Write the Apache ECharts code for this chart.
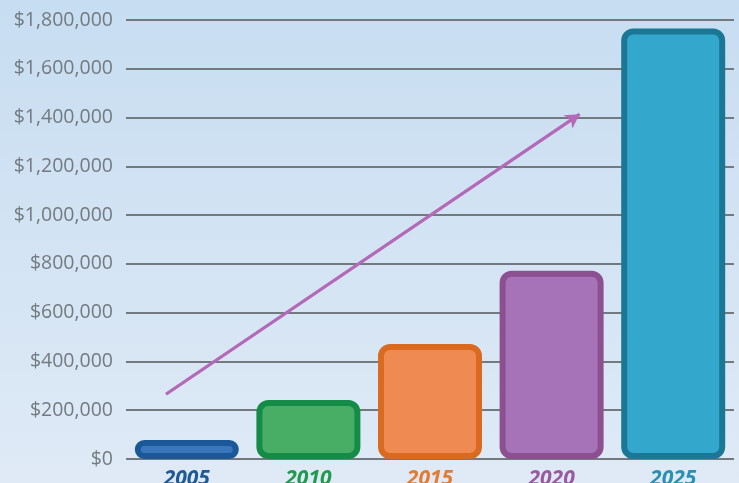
<!DOCTYPE html>
<html>
<head>
<meta charset="utf-8">
<script src="https://cdn.jsdelivr.net/npm/echarts@6/dist/echarts.min.js"></script>
<style>
html,body{margin:0;padding:0;}
#c{width:739px;height:483px;}
</style>
</head>
<body>
<div id="c"></div>
<script>
const categories = ['2005', '2010', '2015', '2020', '2025'];
const values = [78000, 242000, 472000, 772000, 1765000];
const yTicks = { min: 0, max: 1800000, interval: 200000 };
const fillColors = ['#3a76bc', '#48ae66', '#ee8a52', '#a673b8', '#34a7cc'];
const borderColors = ['#1b5898', '#148c48', '#da6a20', '#8c4f8f', '#1a7896'];
const labelColors = ['#1f5a96', '#1f9a4e', '#e37c33', '#9a5aa0', '#2a90b2'];
const trendArrow = [[-0.17, 266000], [3.23, 1414000]];

const chart = echarts.init(document.getElementById('c'));
chart.setOption({
  animation: false,
  backgroundColor: {
    type: 'linear', x: 0, y: 0, x2: 0, y2: 1,
    colorStops: [{ offset: 0, color: '#c7ddf1' }, { offset: 1, color: '#dfeaf6' }]
  },
  grid: { left: 126, right: 5, top: 20, bottom: 24, containLabel: false, outerBoundsMode: 'none' },
  xAxis: [{
    type: 'category',
    data: categories.map((c, i) => ({ value: c, textStyle: { color: labelColors[i] } })),
    axisLine: { show: false },
    axisTick: { show: false },
    axisLabel: {
      fontFamily: 'Open Sans', fontSize: 21, fontWeight: 'bold', fontStyle: 'italic',
      margin: 10
    }
  }, {
    type: 'value', min: -0.5, max: 4.5, show: false
  }],
  yAxis: {
    type: 'value',
    min: yTicks.min, max: yTicks.max, interval: yTicks.interval,
    axisLine: { show: false },
    axisTick: { show: false },
    axisLabel: {
      color: '#737a80', fontFamily: 'Open Sans', fontSize: 19.5, margin: 13,
      formatter: v => '$' + v.toLocaleString('en-US')
    },
    splitLine: { lineStyle: { color: '#727a80', width: 2 } }
  },
  series: [{
    type: 'bar',
    barWidth: 104,
    data: values.map((v, i) => ({
      value: v,
      itemStyle: {
        color: fillColors[i],
        borderColor: borderColors[i],
        borderWidth: 6,
        borderRadius: 9
      }
    }))
  }, {
    type: 'line',
    xAxisIndex: 1,
    data: trendArrow,
    showSymbol: false,
    symbol: 'none',
    lineStyle: { color: '#b46ab8', width: 3 },
    markLine: {
      silent: true,
      symbol: ['none', 'arrow'],
      symbolSize: [12, 14],
      label: { show: false },
      lineStyle: { color: '#b46ab8', width: 3, type: 'solid' },
      data: [[{ coord: trendArrow[0] }, { coord: trendArrow[1] }]]
    }
  }]
});
</script>
</body>
</html>
